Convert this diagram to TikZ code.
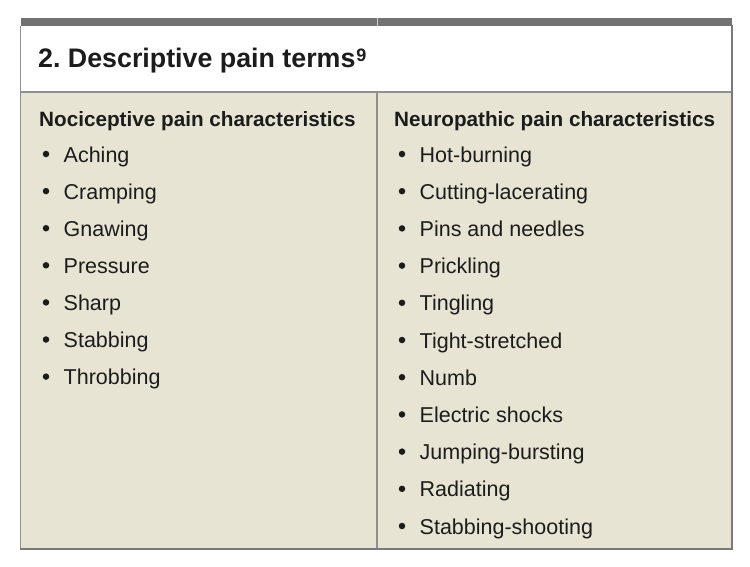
\documentclass[tikz,border=0pt]{standalone}
\usepackage{fontspec}
\setmainfont{Liberation Sans}
\definecolor{beige}{HTML}{E7E4D4}
\definecolor{barg}{HTML}{727272}
\definecolor{lineg}{HTML}{8F8F8F}
\definecolor{textc}{HTML}{1C1C1C}
\begin{document}
\frenchspacing
\begin{tikzpicture}[x=1pt,y=1pt,
  item/.style={anchor=base west,inner sep=0pt,text=textc,font=\fontsize{21.5}{24}\selectfont},
  bul/.style={circle,fill=textc,inner sep=0pt,minimum size=6.5pt},
  head/.style={anchor=base west,inner sep=0pt,text=textc,font=\fontsize{20.7}{24}\selectfont\bfseries},
  ttl/.style={anchor=base west,inner sep=0pt,text=textc,font=\fontsize{26.8}{30}\selectfont\bfseries},
  frame/.style={draw=lineg,line width=1.5pt}]
\useasboundingbox (0,0) rectangle (750,-566);
\fill[white] (0,0) rectangle (750,-566);
% body and bars
\fill[beige] (20.5,-92) rectangle (732,-549);
\fill[barg] (20.5,-17.5) rectangle (732,-26);
\draw[white!65!barg,line width=1pt] (377,-17.5) -- (377,-26);
\draw[frame] (20.5,-26) -- (20.5,-549);
\draw[frame] (20.5,-92) -- (732,-92);
\draw[frame] (377,-92) -- (377,-549);
\draw[draw=lineg!85!black,line width=2.2pt] (19.5,-549) -- (732,-549) -- (732,-25);
% title
\node[ttl] (title) at (38,-67) {2. Descriptive pain terms\kern1pt\raisebox{6pt}{\fontsize{18}{18}\selectfont 9}};
% headers
\node[head] (hl) at (39,-126) {Nociceptive pain characteristics};
\node[head] (hr) at (394,-126) {Neuropathic pain characteristics};
% left items
\foreach \t [count=\i] in {Aching,Cramping,Gnawing,Pressure,Sharp,Stabbing,Throbbing}{
  \node[bul] (lb\i) at (46,{-154-37.1*(\i-1)}) {};
  \node[item] (l\i) at (63.5,{-162-37.1*(\i-1)}) {\t};
}
% right items
\foreach \t [count=\i] in {Hot-burning,Cutting-lacerating,Pins and needles,Prickling,Tingling,Tight-stretched,Numb,Electric shocks,Jumping-bursting,Radiating,Stabbing-shooting}{
  \node[bul] (rb\i) at (402,{-154-37.2*(\i-1)}) {};
  \node[item] (r\i) at (419.5,{-162-37.2*(\i-1)}) {\t};
}
\end{tikzpicture}
\end{document}
